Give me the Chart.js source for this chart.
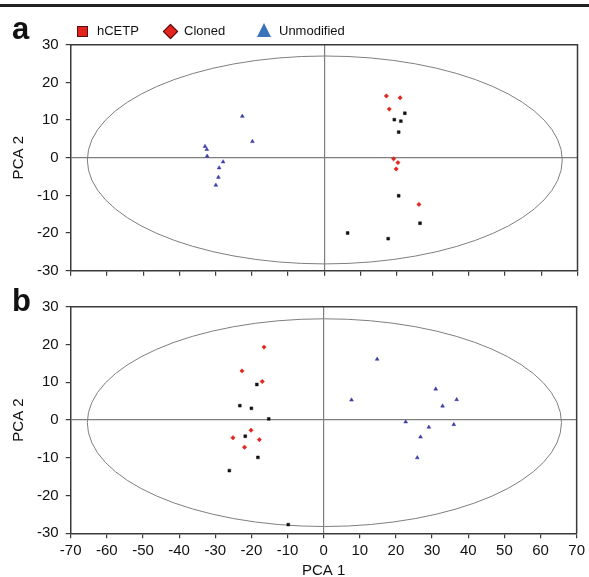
<!DOCTYPE html>
<html>
<head>
<meta charset="utf-8">
<script src="https://cdn.jsdelivr.net/npm/chart.js@4.4.1/dist/chart.umd.min.js"></script>
<style>
  html, body { margin: 0; padding: 0; background: #fff; }
  #wrap { position: relative; width: 589px; height: 577px; overflow: hidden; font-family: "Liberation Sans", Arial, sans-serif; }
  #topline { position: absolute; left: 0; top: 4px; width: 589px; height: 3px; background: #222; }
  .panel { position: absolute; left: 0; }
  .plabel { position: absolute; font-weight: bold; font-size: 31px; line-height: 31px; color: #111; }
  #legend { position: absolute; left: 0; top: 24px; height: 14px; font-size: 13px; line-height: 14px; color: #111; }
  #legend .item { position: absolute; top: 0; white-space: nowrap; }
  .mk { position: absolute; }
</style>
</head>
<body>
<div id="wrap">
  <div id="topline"></div>
  <canvas id="chartA" class="panel" width="589" height="290" style="top:0"></canvas>
  <canvas id="chartB" class="panel" width="589" height="287" style="top:290px"></canvas>
  <div class="plabel" style="left:12px; top:13px">a</div>
  <div class="plabel" style="left:12px; top:285px">b</div>
  <div id="legend"></div>
</div>
<script>
// ---------------- data ----------------
const seriesNames = ["hCETP", "Cloned", "Unmodified"];
const xTickValues = [-70, -60, -50, -40, -30, -20, -10, 0, 10, 20, 30, 40, 50, 60, 70];
const yTickValues = [-30, -20, -10, 0, 10, 20, 30];
const xAxisTitle = "PCA 1";
const yAxisTitle = "PCA 2";

// panel a
const aHcetpX = [22.3, 19.4, 21.2, 20.6, 20.6, 26.5, 6.5, 17.7];
const aHcetpY = [11.8, 10.1, 9.7, 6.8, -10.1, -17.4, -20.0, -21.5];
const aClonedX = [17.2, 21.0, 18.0, 19.2, 20.4, 19.9, 26.2];
const aClonedY = [16.4, 15.9, 12.9, -0.3, -1.3, -3.0, -12.4];
const aUnmodX = [-22.6, -19.8, -32.9, -32.4, -32.3, -27.9, -29.0, -29.2, -29.9];
const aUnmodY = [11.0, 4.3, 3.0, 2.2, 0.4, -1.1, -2.7, -5.2, -7.3];

// panel b
const bHcetpX = [-18.5, -23.2, -20.0, -15.2, -21.7, -18.2, -26.1, -9.8];
const bHcetpY = [9.4, 3.8, 3.1, 0.3, -4.3, -9.9, -13.4, -27.7];
const bClonedX = [-16.5, -22.6, -17.0, -20.1, -25.1, -17.8, -21.9];
const bClonedY = [19.3, 13.0, 10.2, -2.7, -4.7, -5.2, -7.2];
const bUnmodX = [14.8, 7.7, 31.0, 36.8, 32.9, 22.7, 29.1, 36.0, 26.8, 25.9];
const bUnmodY = [16.1, 5.3, 8.2, 5.4, 3.7, -0.5, -1.9, -1.2, -4.5, -10.0];

// confidence ellipse: centre x, centre y, semi-axis x, semi-axis y (data units)
const ellipseA = [0.2, -0.6, 65.6, 27.6];
const ellipseB = [0.2, -0.7, 65.6, 27.5];

// ---------------- styling ----------------
const FONT = "'Liberation Sans', Arial, sans-serif";
const AXIS_COLOR = "#3a3a3a";
const GUIDE_COLOR = "#7e7e7e";
const styles = [
  { color: "#111111", legendColor: "#e3231e", pointStyle: "rect", radius: 2.0 },
  { color: "#e3231e", legendColor: "#e3231e", pointStyle: "rectRot", radius: 2.2 },
  { color: "#3c3ca6", legendColor: "#3b73b9", pointStyle: "triangle", radius: 2.2 }
];

function pts(xs, ys) { return xs.map((x, i) => ({ x: x, y: ys[i] })); }

function makeDatasets(series) {
  return series.map((s, i) => ({
    label: seriesNames[i],
    data: pts(s[0], s[1]),
    pointStyle: styles[i].pointStyle,
    pointRadius: styles[i].radius,
    pointHoverRadius: styles[i].radius,
    backgroundColor: styles[i].color,
    borderColor: styles[i].color,
    borderWidth: 0.5,
    showLine: false
  }));
}

const ellipsePlugin = {
  id: "ellipseFrame",
  beforeDatasetsDraw(chart, args, opts) {
    const { ctx, scales: { x, y } } = chart;
    const e = opts.ellipse;
    const cx = x.getPixelForValue(e[0]);
    const cy = y.getPixelForValue(e[1]);
    const rx = Math.abs(x.getPixelForValue(e[0] + e[2]) - cx);
    const ry = Math.abs(y.getPixelForValue(e[1] + e[3]) - cy);
    ctx.save();
    ctx.beginPath();
    ctx.ellipse(cx, cy, rx, ry, 0, 0, Math.PI * 2);
    ctx.strokeStyle = GUIDE_COLOR;
    ctx.lineWidth = 1;
    ctx.stroke();
    ctx.restore();
  },
  afterDatasetsDraw(chart) {
    const { ctx, chartArea: a } = chart;
    ctx.save();
    ctx.strokeStyle = AXIS_COLOR;
    ctx.lineWidth = 1.5;
    ctx.beginPath();
    ctx.moveTo(a.left, a.top);
    ctx.lineTo(a.right, a.top);
    ctx.lineTo(a.right, a.bottom);
    ctx.stroke();
    ctx.restore();
  }
};

function makeChart(id, series, ellipse, opt) {
  return new Chart(document.getElementById(id), {
    type: "scatter",
    data: { datasets: makeDatasets(series) },
    plugins: [ellipsePlugin],
    options: {
      responsive: false,
      animation: false,
      devicePixelRatio: 1,
      layout: { padding: { top: opt.top, right: 11.5, bottom: 0, left: 0 } },
      plugins: {
        legend: { display: false },
        tooltip: { enabled: false },
        ellipseFrame: { ellipse: ellipse }
      },
      scales: {
        x: {
          type: "linear",
          min: -70, max: 70,
          afterBuildTicks(s) { s.ticks = xTickValues.map(v => ({ value: v })); },
          afterFit(s) { s.height = opt.xHeight; },
          ticks: {
            display: opt.xLabels,
            color: "#111",
            padding: 4,
            maxRotation: 0,
            font: { family: FONT, size: 15 }
          },
          grid: {
            drawOnChartArea: true,
            drawTicks: true,
            tickLength: 5,
            tickColor: AXIS_COLOR,
            tickWidth: 1.2,
            lineWidth: 1.2,
            color: c => (c.tick && c.tick.value === 0) ? GUIDE_COLOR : "rgba(0,0,0,0)"
          },
          border: { display: true, color: AXIS_COLOR, width: 1.5 },
          title: {
            display: opt.xLabels,
            text: xAxisTitle,
            color: "#111",
            font: { family: FONT, size: 15, lineHeight: 1 },
            padding: { top: 0, bottom: -1 }
          }
        },
        y: {
          type: "linear",
          min: -30, max: 30,
          afterBuildTicks(s) { s.ticks = yTickValues.map(v => ({ value: v })); },
          afterFit(s) { s.width = 70.7; },
          ticks: {
            color: "#111",
            padding: 7,
            font: { family: FONT, size: 15 }
          },
          grid: {
            drawOnChartArea: true,
            drawTicks: true,
            tickLength: 5,
            tickColor: AXIS_COLOR,
            tickWidth: 1.2,
            lineWidth: 1.2,
            color: c => (c.tick && c.tick.value === 0) ? GUIDE_COLOR : "rgba(0,0,0,0)"
          },
          border: { display: true, color: AXIS_COLOR, width: 1.5 },
          title: {
            display: true,
            text: yAxisTitle,
            color: "#111",
            font: { family: FONT, size: 15, lineHeight: 1 },
            padding: { top: 11, bottom: 0 }
          }
        }
      }
    }
  });
}

makeChart("chartA", [[aHcetpX, aHcetpY], [aClonedX, aClonedY], [aUnmodX, aUnmodY]], ellipseA,
  { top: 44.7, xHeight: 19.3, xLabels: false });
makeChart("chartB", [[bHcetpX, bHcetpY], [bClonedX, bClonedY], [bUnmodX, bUnmodY]], ellipseB,
  { top: 16.7, xHeight: 43.7, xLabels: true });

// ---------------- HTML legend ----------------
const legend = document.getElementById("legend");
const legendLayout = [
  { marker: 77, text: 97 },
  { marker: 163, text: 184 },
  { marker: 257, text: 279 }
];
seriesNames.forEach((name, i) => {
  const m = document.createElement("div");
  m.className = "mk";
  const col = styles[i].legendColor;
  if (i === 0) {
    Object.assign(m.style, { left: legendLayout[i].marker + "px", top: "2px", width: "9px", height: "9px",
      background: col, border: "0.8px solid #5a1010" });
  } else if (i === 1) {
    Object.assign(m.style, { left: (legendLayout[i].marker + 2) + "px", top: "2px", width: "9px", height: "9px",
      background: col, border: "0.8px solid #4a0a0a", transform: "rotate(45deg)" });
  } else {
    Object.assign(m.style, { left: legendLayout[i].marker + "px", top: "-1px", width: "0", height: "0",
      borderLeft: "7.5px solid transparent", borderRight: "7.5px solid transparent",
      borderBottom: "14px solid " + col });
  }
  legend.appendChild(m);
  const t = document.createElement("div");
  t.className = "item";
  t.style.left = legendLayout[i].text + "px";
  t.textContent = name;
  legend.appendChild(t);
});
</script>
</body>
</html>
